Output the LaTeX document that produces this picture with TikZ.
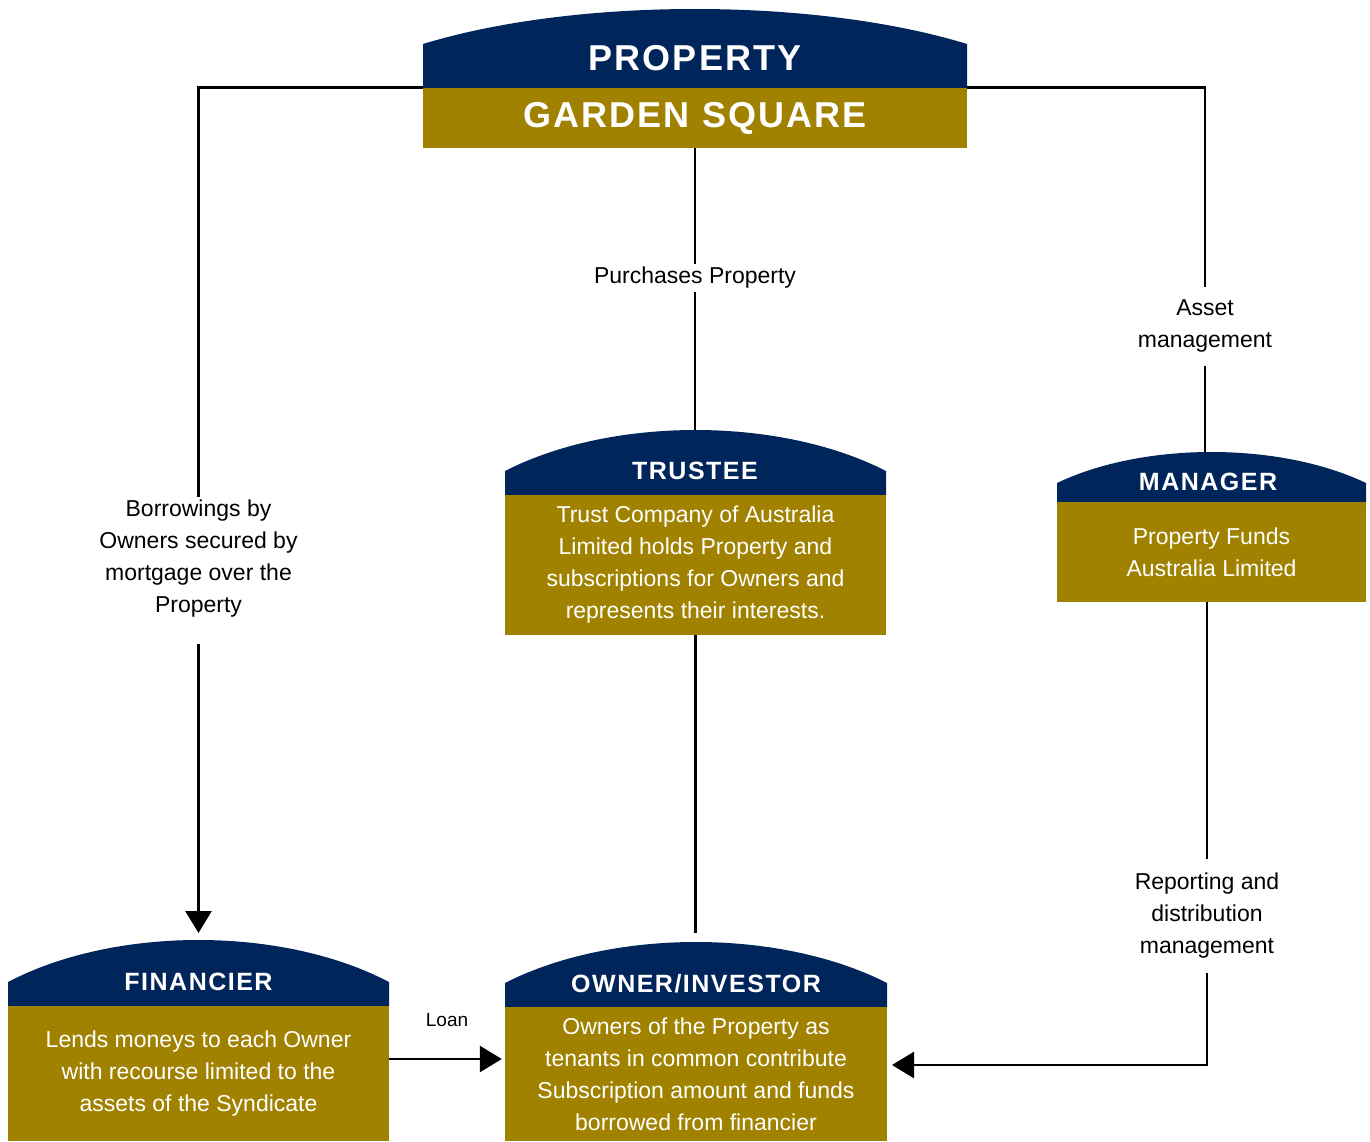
\documentclass[tikz,border=0pt]{standalone}
\usepackage{fontspec}
\setmainfont{Liberation Sans}
\newfontfamily\headfont[LetterSpace=6]{Liberation Sans}
\usepackage{tikz}
\usetikzlibrary{arrows.meta}
\definecolor{navy}{RGB}{0,37,90}
\definecolor{gold}{RGB}{160,130,0}

\begin{document}
\begin{tikzpicture}[x=1pt,y=-1pt,
  body/.style={fill=gold, text=white, inner sep=0, align=center, font=\fontsize{23}{32}\selectfont},
  head/.style={text=white, inner sep=0, font=\headfont\bfseries\fontsize{25}{30}\selectfont},
  lbl/.style={align=center, inner xsep=0, font=\fontsize{23}{32}\selectfont},
  link/.style={line width=2.7pt},
  arr/.style={link, -{Triangle[length=22pt,width=26pt]}}]

\useasboundingbox (0,0) rectangle (1370,1141);

% roofs: name/left/right/side/peak/base
\foreach \n/\xl/\xr/\ys/\yt/\yb in {property/423/967/44/9/88, trustee/505/886/471/430/495,
    manager/1057/1366/483/452/504, financier/8/389/982/940/1006, owner/505/887/983/942/1007}{
  \fill[navy] (\xl,\yb) -- (\xl,\ys)
    .. controls ({\xl+0.28*(\xr-\xl)},{(4*\yt-\ys)/3}) and ({\xr-0.28*(\xr-\xl)},{(4*\yt-\ys)/3}) .. (\xr,\ys)
    -- (\xr,\yb) -- cycle;
  \coordinate (\n-top) at ({(\xl+\xr)/2},\yt);
}

\node[body, minimum width=544, minimum height=60, font=\headfont\bfseries\fontsize{36}{40}\selectfont] (property) at (695,118) {GARDEN SQUARE};
\node[head, font=\headfont\bfseries\fontsize{36}{40}\selectfont] (propertyhd) at (695,58) {PROPERTY};

\node[body, minimum width=381, minimum height=140] (trustee) at (695.5,565)
  {Trust Company of Australia\\Limited holds Property and\\subscriptions for Owners and\\represents their interests.};
\node[head] (trusteehd) at (695,471) {TRUSTEE};

\node[body, minimum width=309, minimum height=100] (manager) at (1211.5,552) {Property Funds\\Australia Limited};
\node[head] (managerhd) at (1208,482) {MANAGER};

\node[body, minimum width=381, minimum height=135] (financier) at (198.5,1073.5)
  {Lends moneys to each Owner\\with recourse limited to the\\assets of the Syndicate};
\node[head] (financierhd) at (198.5,982) {FINANCIER};

\node[body, minimum width=382, minimum height=134] (owner) at (696,1074)
  {Owners of the Property as\\tenants in common contribute\\Subscription amount and funds\\borrowed from financier};
\node[head] (ownerhd) at (696,984) {OWNER/INVESTOR};

% labels on the links
\node[lbl] (purchase) at (695,278) {Purchases Property};
\node[lbl] (borrow) at (198.5,559) {Borrowings by\\Owners secured by\\mortgage over the\\Property};
\node[lbl, inner ysep=13] (asset) at (1205,326) {Asset\\management};
\node[lbl, inner ysep=14] (report) at (1207,916) {Reporting and\\distribution\\management};

\coordinate (ownerin) at (892,1065);
\coordinate (loanrow) at (0,1059);

\draw[link] (property.north west) -| (borrow.north);
\draw[arr, shorten <=23pt, shorten >=7pt] (borrow.south) -- (financier-top);
\draw[link] (property.south) -- (purchase.north);
\draw[link] (purchase.south) -- (purchase.south |- trustee-top);
\draw[link] (property.north east) -| (asset.north);
\draw[link] (asset.south) -- (asset.south |- manager-top);
\draw[link, shorten >=9pt] (trustee.south) -- (trustee.south |- owner-top);
\draw[link] (report |- manager.south) -- (report.north);
\draw[arr] (report.south) |- (ownerin);
\draw[arr, shorten >=3pt] (financier.east |- loanrow) -- (owner.west |- loanrow)
  node[midway, above=31pt, inner sep=0, font=\fontsize{19}{22}\selectfont] (loan) {Loan};
\end{tikzpicture}
\end{document}
